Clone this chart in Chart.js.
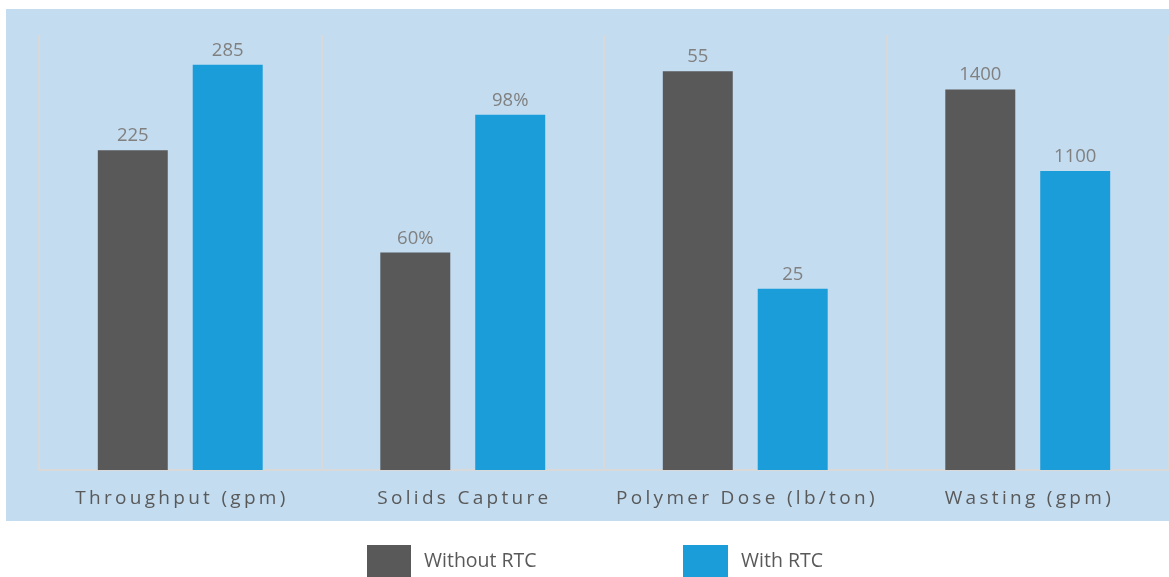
<!DOCTYPE html>
<html>
<head>
<meta charset="utf-8">
<script src="https://cdn.jsdelivr.net/npm/chart.js@4/dist/chart.umd.min.js"></script>
<style>
  html, body { margin: 0; padding: 0; background: #ffffff; }
  #c { display: block; }
</style>
</head>
<body>
<canvas id="c" width="1169" height="577"></canvas>
<script>
// ---- data ----
const categories = ['Throughput (gpm)', 'Solids Capture', 'Polymer Dose (lb/ton)', 'Wasting (gpm)'];
const withoutRTC = [225, 60, 55, 1400];
const withRTC = [285, 98, 25, 1100];
const valueSuffix = ['', '%', '', ''];
// each group has its own value scale (top of plot area)
const groupAxisMax = [306, 120, 60, 1600];
const seriesLabels = ['Without RTC', 'With RTC'];

const COLORS = ['#595959', '#1a9dd9'];
const FONT = '"Open Sans", "Noto Sans", sans-serif';

const norm = arr => arr.map((v, i) => v / groupAxisMax[i]);
const rawSeries = [withoutRTC, withRTC];

const panelPlugin = {
  id: 'panel',
  beforeDraw(chart) {
    const ctx = chart.ctx;
    ctx.save();
    ctx.fillStyle = '#c3dcf0';
    ctx.fillRect(6, 9, chart.width - 6, 512);
    ctx.restore();
  }
};

const labelsPlugin = {
  id: 'labels',
  afterDatasetsDraw(chart) {
    const ctx = chart.ctx;
    ctx.save();
    // value labels
    ctx.font = '18.5px ' + FONT;
    ctx.fillStyle = '#808080';
    ctx.textAlign = 'center';
    ctx.textBaseline = 'alphabetic';
    chart.data.datasets.forEach((ds, di) => {
      const meta = chart.getDatasetMeta(di);
      meta.data.forEach((bar, i) => {
        ctx.fillText(rawSeries[di][i] + valueSuffix[i], bar.x, bar.y - 9);
      });
    });
    // category labels with letter spacing
    const spacing = 3.3;
    ctx.font = '19px ' + FONT;
    ctx.fillStyle = '#595959';
    ctx.letterSpacing = spacing + 'px';
    ctx.textAlign = 'left';
    categories.forEach((c, i) => {
      const w = ctx.measureText(c).width - spacing;
      const cx = (chart.getDatasetMeta(0).data[i].x + chart.getDatasetMeta(1).data[i].x) / 2;
      ctx.fillText(c, cx - w / 2, 504);
    });
    ctx.letterSpacing = '0px';
    // legend
    const legendBoxes = [[367, 545, 44, 32], [683, 545, 45, 32]];
    const legendText = [424, 741];
    ctx.font = '19.5px ' + FONT;
    chart.data.datasets.forEach((ds, di) => {
      const b = legendBoxes[di];
      ctx.fillStyle = ds.backgroundColor;
      ctx.fillRect(b[0], b[1], b[2], b[3]);
      ctx.fillStyle = '#595959';
      ctx.fillText(ds.label, legendText[di], 567);
    });
    ctx.restore();
  }
};

new Chart(document.getElementById('c'), {
  type: 'bar',
  data: {
    labels: categories,
    datasets: [
      { label: seriesLabels[0], data: norm(withoutRTC), backgroundColor: COLORS[0], borderWidth: 0 },
      { label: seriesLabels[1], data: norm(withRTC), backgroundColor: COLORS[1], borderWidth: 0 }
    ]
  },
  options: {
    responsive: false,
    animation: false,
    devicePixelRatio: 1,
    categoryPercentage: 0.672,
    barPercentage: 0.737,
    layout: { padding: { left: 39, right: 0, top: 35, bottom: 107 } },
    plugins: {
      legend: { display: false },
      tooltip: { enabled: false }
    },
    scales: {
      x: {
        offset: true,
        grid: { display: true, offset: true, color: '#d9d9d9', lineWidth: 2, drawTicks: false },
        border: { display: true, color: '#d9d9d9', width: 2 },
        ticks: { display: false }
      },
      y: {
        display: false,
        min: 0,
        max: 1
      }
    }
  },
  plugins: [panelPlugin, labelsPlugin]
});
</script>
</body>
</html>
